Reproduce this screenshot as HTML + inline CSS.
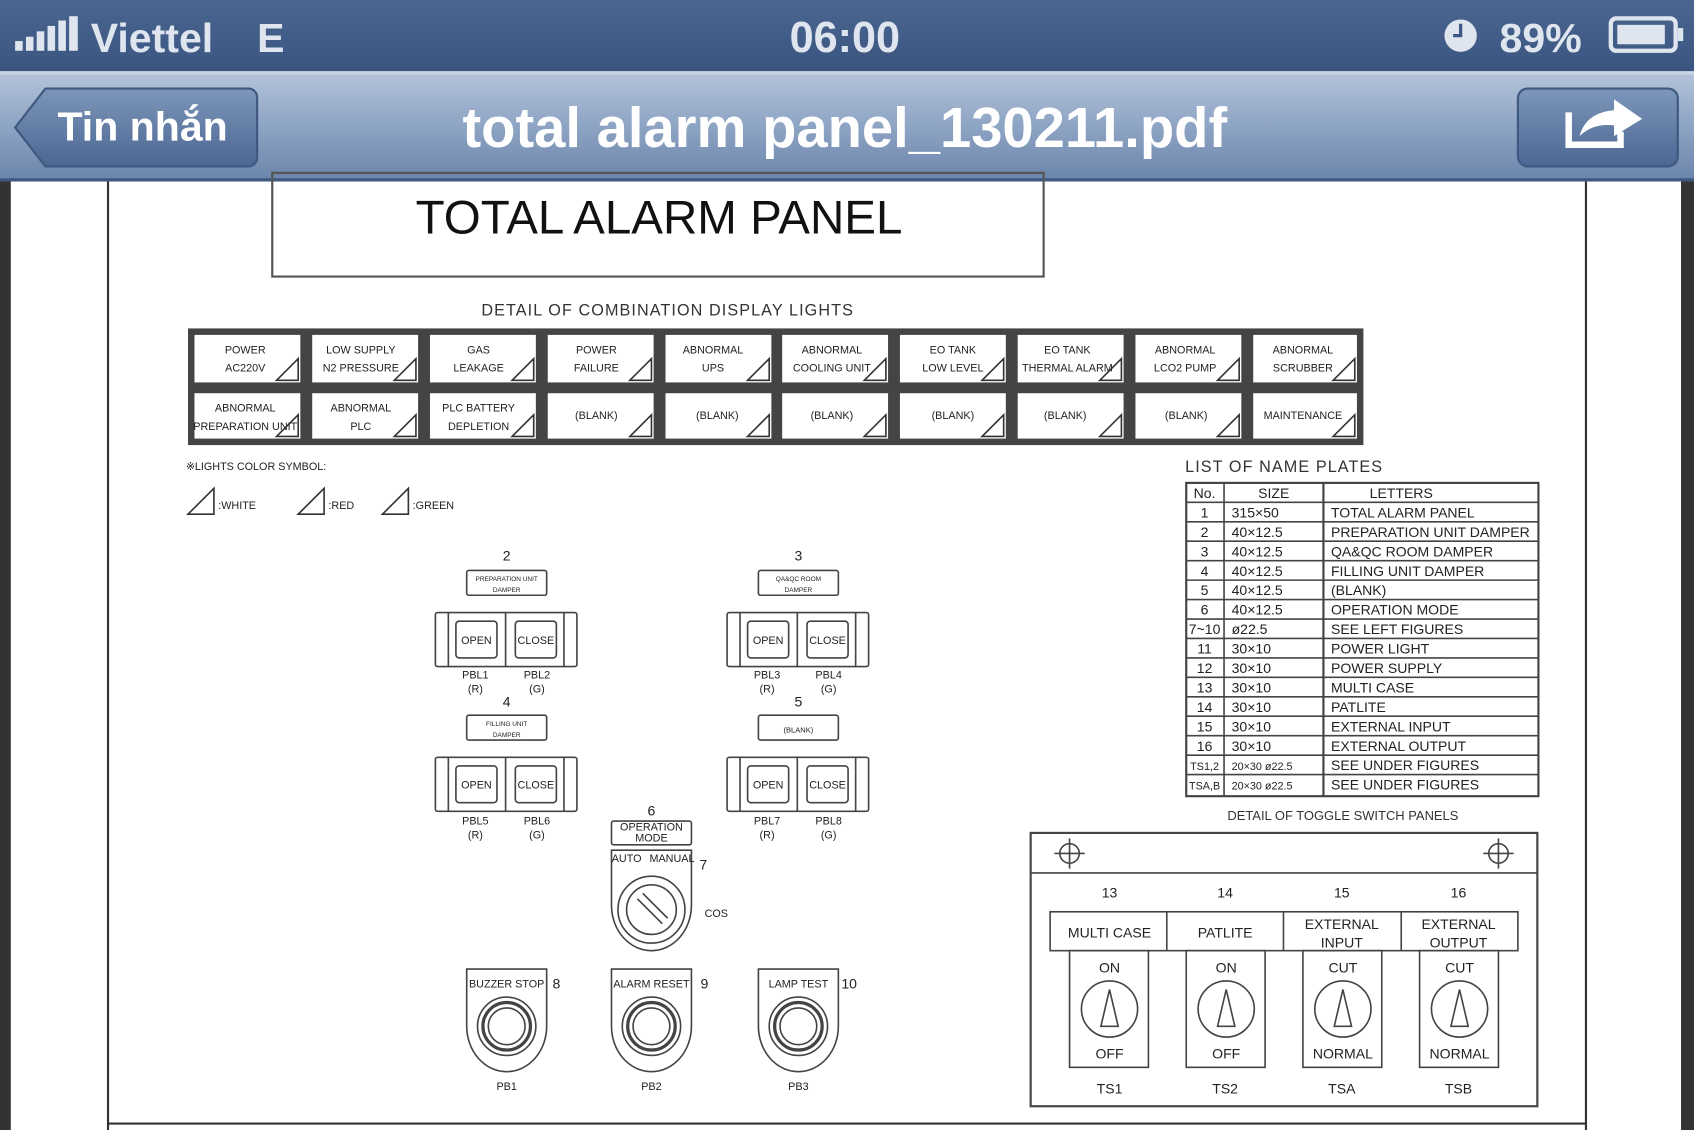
<!DOCTYPE html>
<html><head><meta charset="utf-8"><style>
html,body{margin:0;padding:0;background:#fff;width:1694px;height:1130px;overflow:hidden}
svg{display:block}
text{font-family:"Liberation Sans",sans-serif}
.s{font-size:10px;fill:#222}
.t{font-size:13px;fill:#222}
</style></head><body>
<svg width="1694" height="1130" viewBox="0 0 1568 1046" preserveAspectRatio="none" xmlns="http://www.w3.org/2000/svg">
<defs>
<linearGradient id="sb" x1="0" y1="0" x2="0" y2="1"><stop offset="0" stop-color="#4a6690"/><stop offset="1" stop-color="#3a5580"/></linearGradient>
<linearGradient id="nb" x1="0" y1="0" x2="0" y2="1"><stop offset="0" stop-color="#b4c4da"/><stop offset="0.5" stop-color="#8ea4c4"/><stop offset="1" stop-color="#6a84aa"/></linearGradient>
<linearGradient id="bt" x1="0" y1="0" x2="0" y2="1"><stop offset="0" stop-color="#7d96ba"/><stop offset="1" stop-color="#4b6792"/></linearGradient>
</defs>
<rect x="0" y="165" width="1568" height="881" fill="#fff"/>
<rect x="0" y="165" width="10" height="881" fill="#333"/>
<rect x="1556" y="165" width="12" height="881" fill="#333"/>
<line x1="100" y1="165" x2="100" y2="1046" stroke="#333" stroke-width="2"/>
<line x1="1468" y1="165" x2="1468" y2="1046" stroke="#333" stroke-width="2"/>
<line x1="100" y1="1040" x2="1468" y2="1040" stroke="#333" stroke-width="2"/>
<rect x="0" y="0" width="1568" height="66" fill="url(#sb)"/>
<g fill="#dfe5ee">
<rect x="14" y="38" width="7" height="9"/><rect x="24" y="34" width="7" height="13"/><rect x="34" y="29" width="7" height="18"/><rect x="44" y="24" width="7" height="23"/><rect x="54" y="19" width="7" height="28"/><rect x="64" y="15" width="8" height="32"/>
</g>
<text x="84" y="48" font-size="38" fill="#dfe5ee" font-weight="bold">Viettel</text>
<text x="238" y="48" font-size="38" fill="#dfe5ee" font-weight="bold">E</text>
<text x="782" y="48" font-size="40" fill="#dfe5ee" text-anchor="middle" font-weight="bold">06:00</text>
<circle cx="1352" cy="33" r="15" fill="#dfe5ee"/>
<path d="M1352 22 V33 H1345" stroke="#3d5884" stroke-width="3" fill="none"/>
<text x="1388" y="48" font-size="38" fill="#dfe5ee" font-weight="bold">89%</text>
<rect x="1491" y="17" width="60" height="30" rx="5" fill="none" stroke="#dfe5ee" stroke-width="4"/>
<rect x="1497" y="23" width="44" height="18" fill="#dfe5ee"/>
<rect x="1553" y="26" width="5" height="12" fill="#dfe5ee"/>
<rect x="0" y="66" width="1568" height="102" fill="url(#nb)"/>
<rect x="0" y="66" width="1568" height="3" fill="#c9d4e4"/>
<rect x="0" y="165" width="1568" height="3" fill="#3f5880"/>
<path d="M42 82 H230 a8 8 0 0 1 8 8 V146 a8 8 0 0 1 -8 8 H42 L14 118 Z" fill="url(#bt)" stroke="#3f5880" stroke-width="2"/>
<text x="132" y="130" font-size="38" fill="#fff" text-anchor="middle" font-weight="bold">Tin nhắn</text>
<text x="782" y="136" font-size="52" fill="#fff" text-anchor="middle" font-weight="bold">total alarm panel_130211.pdf</text>
<rect x="1405" y="82" width="148" height="72" rx="9" fill="url(#bt)" stroke="#3f5880" stroke-width="2"/>
<path d="M1452 104 V134 H1500 V122" stroke="#fff" stroke-width="6" fill="none"/>
<path d="M1462 126 Q1468 104 1494 102 V92 L1520 110 L1494 126 V116 Q1474 114 1462 126 Z" fill="#fff"/>
<rect x="252" y="160" width="714" height="96" fill="none" stroke="#555" stroke-width="2"/>
<text x="610" y="216" font-size="44" fill="#111" text-anchor="middle">TOTAL ALARM PANEL</text>
<text x="618" y="292" font-size="15" fill="#333" text-anchor="middle" letter-spacing="1">DETAIL OF COMBINATION DISPLAY LIGHTS</text>
<rect x="174" y="304" width="1088" height="108" fill="#444"/>
<g fill="#fff">
<rect x="180" y="310" width="98" height="44"/><rect x="289" y="310" width="98" height="44"/><rect x="398" y="310" width="98" height="44"/><rect x="507" y="310" width="98" height="44"/><rect x="616" y="310" width="98" height="44"/><rect x="724" y="310" width="98" height="44"/><rect x="833" y="310" width="98" height="44"/><rect x="942" y="310" width="98" height="44"/><rect x="1051" y="310" width="98" height="44"/><rect x="1160" y="310" width="96" height="44"/>
<rect x="180" y="364" width="98" height="42"/><rect x="289" y="364" width="98" height="42"/><rect x="398" y="364" width="98" height="42"/><rect x="507" y="364" width="98" height="42"/><rect x="616" y="364" width="98" height="42"/><rect x="724" y="364" width="98" height="42"/><rect x="833" y="364" width="98" height="42"/><rect x="942" y="364" width="98" height="42"/><rect x="1051" y="364" width="98" height="42"/><rect x="1160" y="364" width="96" height="42"/>
</g>
<g fill="none" stroke="#333" stroke-width="1.5">
<path d="M256 352 L276 332 V352 Z M365 352 L385 332 V352 Z M474 352 L494 332 V352 Z M583 352 L603 332 V352 Z M692 352 L712 332 V352 Z M800 352 L820 332 V352 Z M909 352 L929 332 V352 Z M1018 352 L1038 332 V352 Z M1127 352 L1147 332 V352 Z M1234 352 L1254 332 V352 Z"/>
<path d="M256 404 L276 384 V404 Z M365 404 L385 384 V404 Z M474 404 L494 384 V404 Z M583 404 L603 384 V404 Z M692 404 L712 384 V404 Z M800 404 L820 384 V404 Z M909 404 L929 384 V404 Z M1018 404 L1038 384 V404 Z M1127 404 L1147 384 V404 Z M1234 404 L1254 384 V404 Z"/>
</g>
<g class="s" text-anchor="middle">
<text x="227" y="327">POWER</text><text x="227" y="344">AC220V</text>
<text x="334" y="327">LOW SUPPLY</text><text x="334" y="344">N2 PRESSURE</text>
<text x="443" y="327">GAS</text><text x="443" y="344">LEAKAGE</text>
<text x="552" y="327">POWER</text><text x="552" y="344">FAILURE</text>
<text x="660" y="327">ABNORMAL</text><text x="660" y="344">UPS</text>
<text x="770" y="327">ABNORMAL</text><text x="770" y="344">COOLING UNIT</text>
<text x="882" y="327">EO TANK</text><text x="882" y="344">LOW LEVEL</text>
<text x="988" y="327">EO TANK</text><text x="988" y="344">THERMAL ALARM</text>
<text x="1097" y="327">ABNORMAL</text><text x="1097" y="344">LCO2 PUMP</text>
<text x="1206" y="327">ABNORMAL</text><text x="1206" y="344">SCRUBBER</text>
<text x="227" y="381">ABNORMAL</text><text x="227" y="398">PREPARATION UNIT</text>
<text x="334" y="381">ABNORMAL</text><text x="334" y="398">PLC</text>
<text x="443" y="381">PLC BATTERY</text><text x="443" y="398">DEPLETION</text>
<text x="552" y="388">(BLANK)</text><text x="664" y="388">(BLANK)</text><text x="770" y="388">(BLANK)</text><text x="882" y="388">(BLANK)</text><text x="986" y="388">(BLANK)</text><text x="1098" y="388">(BLANK)</text><text x="1206" y="388">MAINTENANCE</text>
</g>
<text x="172" y="435" class="s">※LIGHTS COLOR SYMBOL:</text>
<g fill="none" stroke="#333" stroke-width="1.5">
<path d="M174 476 L198 452 V476 Z"/><path d="M276 476 L300 452 V476 Z"/><path d="M354 476 L378 452 V476 Z"/>
</g>
<text x="202" y="471" class="s">:WHITE</text><text x="304" y="471" class="s">:RED</text><text x="382" y="471" class="s">:GREEN</text>
<text x="1097" y="437" font-size="15" fill="#333" letter-spacing="1">LIST OF NAME PLATES</text>
<rect x="1098" y="447" width="326" height="290" fill="none" stroke="#444" stroke-width="2"/>
<line x1="1133" y1="447" x2="1133" y2="737" stroke="#444" stroke-width="1.5"/>
<line x1="1225" y1="447" x2="1225" y2="737" stroke="#444" stroke-width="2"/>
<g stroke="#444" stroke-width="1.5">
<line x1="1098" y1="465" x2="1424" y2="465"/><line x1="1098" y1="483" x2="1424" y2="483"/><line x1="1098" y1="501" x2="1424" y2="501"/><line x1="1098" y1="519" x2="1424" y2="519"/><line x1="1098" y1="537" x2="1424" y2="537"/><line x1="1098" y1="555" x2="1424" y2="555"/><line x1="1098" y1="573" x2="1424" y2="573"/><line x1="1098" y1="591" x2="1424" y2="591"/><line x1="1098" y1="609" x2="1424" y2="609"/><line x1="1098" y1="627" x2="1424" y2="627"/><line x1="1098" y1="645" x2="1424" y2="645"/><line x1="1098" y1="663" x2="1424" y2="663"/><line x1="1098" y1="681" x2="1424" y2="681"/><line x1="1098" y1="699" x2="1424" y2="699"/><line x1="1098" y1="717" x2="1424" y2="717"/>
</g>
<g class="t" font-size="12">
<text x="1115" y="461" text-anchor="middle">No.</text><text x="1179" y="461" text-anchor="middle">SIZE</text><text x="1297" y="461" text-anchor="middle">LETTERS</text>
<g text-anchor="middle"><text x="1115" y="479">1</text><text x="1115" y="497">2</text><text x="1115" y="515">3</text><text x="1115" y="533">4</text><text x="1115" y="551">5</text><text x="1115" y="569">6</text><text x="1115" y="587">7~10</text><text x="1115" y="605">11</text><text x="1115" y="623">12</text><text x="1115" y="641">13</text><text x="1115" y="659">14</text><text x="1115" y="677">15</text><text x="1115" y="695">16</text><text x="1115" y="713" font-size="10">TS1,2</text><text x="1115" y="731" font-size="10">TSA,B</text></g>
<text x="1140" y="479">315×50</text><text x="1140" y="497">40×12.5</text><text x="1140" y="515">40×12.5</text><text x="1140" y="533">40×12.5</text><text x="1140" y="551">40×12.5</text><text x="1140" y="569">40×12.5</text><text x="1140" y="587">ø22.5</text><text x="1140" y="605">30×10</text><text x="1140" y="623">30×10</text><text x="1140" y="641">30×10</text><text x="1140" y="659">30×10</text><text x="1140" y="677">30×10</text><text x="1140" y="695">30×10</text><text x="1140" y="713" font-size="10">20×30 ø22.5</text><text x="1140" y="731" font-size="10">20×30 ø22.5</text>
<text x="1232" y="479">TOTAL ALARM PANEL</text><text x="1232" y="497">PREPARATION UNIT DAMPER</text><text x="1232" y="515">QA&amp;QC ROOM DAMPER</text><text x="1232" y="533">FILLING UNIT DAMPER</text><text x="1232" y="551">(BLANK)</text><text x="1232" y="569">OPERATION MODE</text><text x="1232" y="587">SEE LEFT FIGURES</text><text x="1232" y="605">POWER LIGHT</text><text x="1232" y="623">POWER SUPPLY</text><text x="1232" y="641">MULTI CASE</text><text x="1232" y="659">PATLITE</text><text x="1232" y="677">EXTERNAL INPUT</text><text x="1232" y="695">EXTERNAL OUTPUT</text><text x="1232" y="713">SEE UNDER FIGURES</text><text x="1232" y="731">SEE UNDER FIGURES</text>
</g>
<text x="1243" y="759" font-size="12" fill="#333" text-anchor="middle">DETAIL OF TOGGLE SWITCH PANELS</text>
<rect x="954" y="771" width="469" height="253" fill="none" stroke="#444" stroke-width="2"/>
<line x1="954" y1="808" x2="1423" y2="808" stroke="#444" stroke-width="1.5"/>
<g fill="none" stroke="#444" stroke-width="1.5">
<circle cx="990" cy="790" r="9"/><path d="M976 790 H1004 M990 776 V804"/>
<circle cx="1387" cy="790" r="9"/><path d="M1373 790 H1401 M1387 776 V804"/>
<rect x="972" y="844" width="433" height="36"/>
<path d="M1080 844 V880 M1188 844 V880 M1297 844 V880"/>
<rect x="990" y="880" width="73" height="108"/><rect x="1098" y="880" width="73" height="108"/><rect x="1206" y="880" width="73" height="108"/><rect x="1314" y="880" width="73" height="108"/>
<circle cx="1027" cy="934" r="26"/><circle cx="1135" cy="934" r="26"/><circle cx="1243" cy="934" r="26"/><circle cx="1351" cy="934" r="26"/>
<path d="M1019 950 L1027 916 L1035 950 Z M1127 950 L1135 916 L1143 950 Z M1235 950 L1243 916 L1251 950 Z M1343 950 L1351 916 L1359 950 Z"/>
</g>
<g class="t" font-size="15" text-anchor="middle">
<text x="1027" y="831">13</text><text x="1134" y="831">14</text><text x="1242" y="831">15</text><text x="1350" y="831">16</text>
<text x="1027" y="868">MULTI CASE</text><text x="1134" y="868">PATLITE</text>
<text x="1242" y="860">EXTERNAL</text><text x="1242" y="877">INPUT</text><text x="1350" y="860">EXTERNAL</text><text x="1350" y="877">OUTPUT</text>
<text x="1027" y="900">ON</text><text x="1135" y="900">ON</text><text x="1243" y="900">CUT</text><text x="1351" y="900">CUT</text>
<text x="1027" y="980">OFF</text><text x="1135" y="980">OFF</text><text x="1243" y="980">NORMAL</text><text x="1351" y="980">NORMAL</text>
<text x="1027" y="1012">TS1</text><text x="1134" y="1012">TS2</text><text x="1242" y="1012">TSA</text><text x="1350" y="1012">TSB</text>
</g>
<g id="pg" fill="none" stroke="#444" stroke-width="1.5">
<rect x="432" y="528" width="74" height="23" rx="2"/>
<rect x="403" y="567" width="131" height="50" rx="2"/>
<path d="M415 567 V617 M468 567 V617 M522 567 V617"/>
<rect x="422" y="575" width="38" height="34" rx="3"/><rect x="477" y="575" width="38" height="34" rx="3"/>
</g>
<use href="#pg" transform="translate(270,0)"/>
<use href="#pg" transform="translate(0,134)"/>
<use href="#pg" transform="translate(270,134)"/>
<g class="s" font-size="9" text-anchor="middle">
<text x="469" y="538" font-size="6">PREPARATION UNIT</text><text x="469" y="548" font-size="6">DAMPER</text>
<text x="739" y="538" font-size="6">QA&amp;QC ROOM</text><text x="739" y="548" font-size="6">DAMPER</text>
<text x="469" y="672" font-size="6">FILLING UNIT</text><text x="469" y="682" font-size="6">DAMPER</text>
<text x="739" y="678" font-size="7">(BLANK)</text>
<text x="441" y="596">OPEN</text><text x="496" y="596">CLOSE</text><text x="711" y="596">OPEN</text><text x="766" y="596">CLOSE</text>
<text x="441" y="730">OPEN</text><text x="496" y="730">CLOSE</text><text x="711" y="730">OPEN</text><text x="766" y="730">CLOSE</text>
<text x="440" y="628">PBL1</text><text x="440" y="641">(R)</text><text x="497" y="628">PBL2</text><text x="497" y="641">(G)</text>
<text x="710" y="628">PBL3</text><text x="710" y="641">(R)</text><text x="767" y="628">PBL4</text><text x="767" y="641">(G)</text>
<text x="440" y="763">PBL5</text><text x="440" y="776">(R)</text><text x="497" y="763">PBL6</text><text x="497" y="776">(G)</text>
<text x="710" y="763">PBL7</text><text x="710" y="776">(R)</text><text x="767" y="763">PBL8</text><text x="767" y="776">(G)</text>
</g>
<g class="t" font-size="15" text-anchor="middle">
<text x="469" y="519">2</text><text x="739" y="519">3</text><text x="469" y="654">4</text><text x="739" y="654">5</text><text x="603" y="755">6</text>
<text x="651" y="805">7</text><text x="515" y="915">8</text><text x="652" y="915">9</text><text x="786" y="915">10</text>
</g>
<g fill="none" stroke="#444" stroke-width="1.5">
<rect x="566" y="760" width="74" height="22" rx="2"/>
<path d="M566 787 H640 V838 A37 42 0 0 1 566 838 Z"/>
<circle cx="603" cy="842" r="31"/><circle cx="603" cy="842" r="23"/>
<path d="M590 832 L613 855 M595 827 L618 850"/>
<path d="M432 897 H506 V950 A37 42 0 0 1 432 950 Z"/><circle cx="469" cy="950" r="27"/><circle cx="469" cy="950" r="22" stroke-width="3"/><circle cx="469" cy="950" r="17"/>
<path d="M566 897 H640 V950 A37 42 0 0 1 566 950 Z"/><circle cx="603" cy="950" r="27"/><circle cx="603" cy="950" r="22" stroke-width="3"/><circle cx="603" cy="950" r="17"/>
<path d="M702 897 H776 V950 A37 42 0 0 1 702 950 Z"/><circle cx="739" cy="950" r="27"/><circle cx="739" cy="950" r="22" stroke-width="3"/><circle cx="739" cy="950" r="17"/>
</g>
<g class="s" text-anchor="middle" font-size="6">
<text x="603" y="769">OPERATION</text><text x="603" y="779">MODE</text>
<text x="580" y="798">AUTO</text><text x="622" y="798">MANUAL</text>
<text x="469" y="914">BUZZER STOP</text><text x="603" y="914">ALARM RESET</text><text x="739" y="914">LAMP TEST</text>
</g>
<g class="s" text-anchor="middle" font-size="11">
<text x="663" y="849">COS</text><text x="469" y="1009">PB1</text><text x="603" y="1009">PB2</text><text x="739" y="1009">PB3</text>
</g>
</svg>
</body></html>
